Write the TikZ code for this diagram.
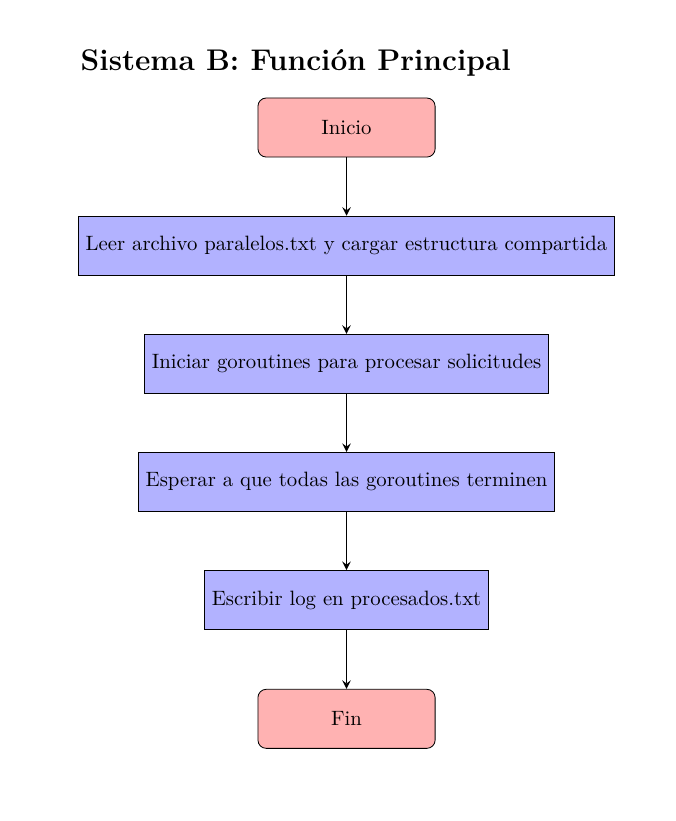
\documentclass[tikz,border=0pt]{standalone}
\usetikzlibrary{arrows,positioning}
\begin{document}
\begin{tikzpicture}[
  startstop/.style={rectangle, rounded corners, minimum width=3cm, minimum height=1cm, text centered, draw=black, fill=red!30},
  process/.style={rectangle, minimum width=3cm, minimum height=1cm, text centered, draw=black, fill=blue!30},
  arrow/.style={thick,->,>=stealth}
]
\useasboundingbox (0,0) rectangle (11.43,-13.90);
\node[anchor=base west, font=\Large\bfseries, inner sep=0pt] (title) at (1.36,-1.19) {Sistema B: Función Principal};
\node[startstop] (start) at (5.867,-2.159) {Inicio};
\node[process] (leer) at (5.867,-4.159) {Leer archivo paralelos.txt y cargar estructura compartida};
\node[process] (iniciar) at (5.867,-6.159) {Iniciar goroutines para procesar solicitudes};
\node[process] (esperar) at (5.867,-8.159) {Esperar a que todas las goroutines terminen};
\node[process] (escribir) at (5.867,-10.159) {Escribir log en procesados.txt};
\node[startstop] (fin) at (5.867,-12.17) {Fin};
\draw[arrow] (start) -- (leer);
\draw[arrow] (leer) -- (iniciar);
\draw[arrow] (iniciar) -- (esperar);
\draw[arrow] (esperar) -- (escribir);
\draw[arrow] (escribir) -- (fin);
\end{tikzpicture}
\end{document}
